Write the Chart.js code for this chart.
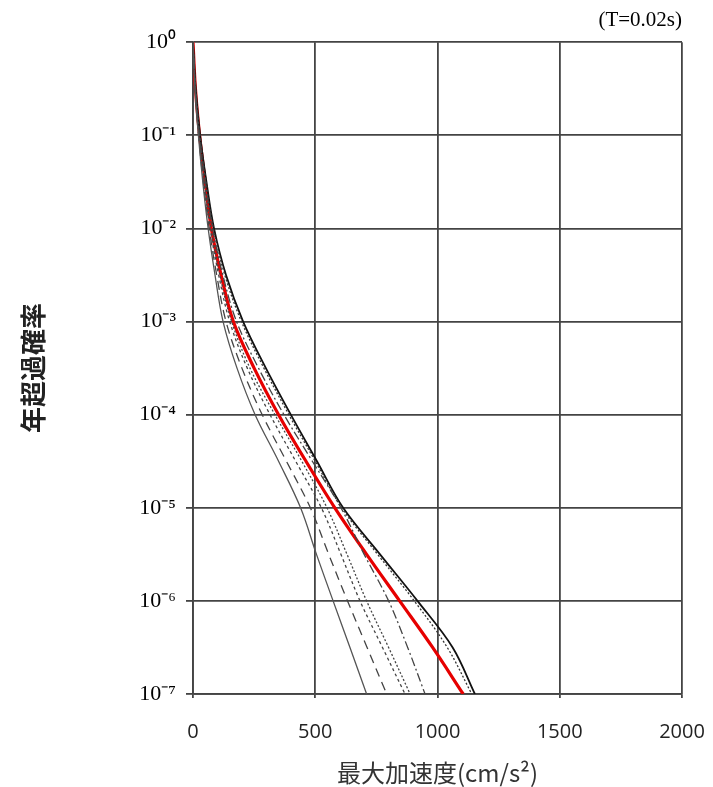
<!DOCTYPE html>
<html>
<head>
<meta charset="utf-8">
<script src="https://cdn.jsdelivr.net/npm/chart.js@4"></script>
<style>
  body { margin: 0; background: #fff; }
  canvas { display: block; }
</style>
</head>
<body>
<canvas id="hazardChart" width="713" height="787"></canvas>
<script>
// exceedance probability levels (half decades) at which curves were read
const probLevels = [1, 3.16e-1, 1e-1, 3.16e-2, 1e-2, 3.16e-3, 1e-3, 3.16e-4, 1e-4, 3.16e-5, 1e-5, 3.16e-6, 1e-6, 3.16e-7, 1e-7];

// peak acceleration (cm/s2) of each curve at those levels
const graySolid  = [0, 8, 22, 40, 62, 90, 123, 180, 254, 350, 440, 505, 573, 642, 710];
const longDashed = [0, 9, 23, 42, 66, 97, 135, 200, 283, 382, 480, 555, 632, 712, 792];
const dottedA    = [0, 9, 24, 45, 70, 105, 150, 222, 315, 420, 525, 605, 683, 775, 867];
const dottedB    = [0, 10, 25, 47, 74, 110, 158, 233, 335, 445, 548, 630, 710, 800, 888];
const dashDot    = [0, 10, 27, 51, 80, 122, 178, 268, 372, 488, 605, 700, 800, 878, 949];
const dottedC    = [0, 11, 29, 54, 84, 130, 198, 290, 392, 500, 608, 755, 905, 1040, 1140];
const blackSolid = [0, 11, 29, 55, 86, 135, 205, 298, 400, 507, 614, 765, 918, 1062, 1153];
const meanRed    = [0, 10, 27, 50, 75, 115, 165, 250, 350, 462, 580, 710, 845, 980, 1105];

// axis ticks
const xTicks = [0, 500, 1000, 1500, 2000];
const yTicks = [1, 1e-1, 1e-2, 1e-3, 1e-4, 1e-5, 1e-6, 1e-7];
const yTickText = ['10\u2070', '10\u207B\u00B9', '10\u207B\u00B2', '10\u207B\u00B3', '10\u207B\u2074', '10\u207B\u2075', '10\u207B\u2076', '10\u207B\u2077'];

function toPoints(acc) {
    return acc.map((a, i) => ({ x: a, y: probLevels[i] }));
}

function curve(acc, color, width, dash) {
    return {
        data: toPoints(acc),
        borderColor: color,
        borderWidth: width,
        borderDash: dash,
        pointRadius: 0,
        fill: false,
        tension: 0.35
    };
}

let ctx = document.getElementById('hazardChart').getContext('2d');
let hazardChart = new Chart(ctx, {
    type: 'line',
    data: {
        datasets: [
            curve(graySolid, '#555', 1.3, []),
            curve(longDashed, '#444', 1.3, [9, 6]),
            curve(dottedA, '#444', 1.3, [3, 3]),
            curve(dottedB, '#444', 1.3, [2, 2]),
            curve(dashDot, '#444', 1.3, [9, 3, 2, 3]),
            curve(dottedC, '#333', 1.3, [2, 2]),
            curve(blackSolid, '#111', 1.8, []),
            curve(meanRed, '#e60000', 3.2, [])
        ]
    },
    options: {
        responsive: false,
        devicePixelRatio: 1,
        animation: false,
        layout: { padding: { left: 0, right: 31, top: 0, bottom: 0 } },
        plugins: {
            legend: { display: false },
            tooltip: { enabled: false },
            title: {
                display: true,
                text: '(T=0.02s)',
                align: 'end',
                color: '#000',
                font: { family: 'Liberation Serif', size: 21, weight: 'normal' },
                padding: { top: 8, bottom: 9 }
            }
        },
        scales: {
            x: {
                type: 'linear',
                min: 0,
                max: 2000,
                afterFit: s => { s.height = 93; s.paddingLeft = 0; s.paddingRight = 0; },
                afterBuildTicks: s => { s.ticks = xTicks.map(v => ({ value: v })); },
                ticks: {
                    color: '#222',
                    font: { family: 'Open Sans', size: 20 },
                    padding: 22,
                    maxRotation: 0,
                    callback: v => String(v)
                },
                grid: { color: '#444', lineWidth: 1.8, tickLength: 4 },
                border: { color: '#444', width: 1.8 },
                title: {
                    display: true,
                    text: '最大加速度(cm/s²)',
                    color: '#333',
                    font: { family: 'Noto Sans CJK JP', size: 24 },
                    padding: { top: 0, bottom: 0 }
                }
            },
            y: {
                type: 'logarithmic',
                min: 1e-7,
                max: 1,
                afterFit: s => { s.width = 193; s.paddingTop = 0; s.paddingBottom = 0; },
                afterBuildTicks: s => { s.ticks = yTicks.map(v => ({ value: v })); },
                ticks: {
                    color: '#000',
                    font: { family: 'Liberation Serif', size: 22 },
                    padding: 10,
                    callback: (v) => {
                        let i = yTicks.findIndex(t => Math.abs(Math.log10(t) - Math.log10(v)) < 1e-6);
                        return i >= 0 ? yTickText[i] : '';
                    }
                },
                grid: { color: '#444', lineWidth: 1.8, tickLength: 7 },
                border: { color: '#444', width: 1.8 },
                title: {
                    display: true,
                    text: '年超過確率',
                    color: '#222',
                    font: { family: 'Noto Sans CJK JP', size: 26, weight: 'bold' },
                    padding: { top: 18, bottom: 0 }
                }
            }
        }
    }
});
</script>
</body>
</html>
